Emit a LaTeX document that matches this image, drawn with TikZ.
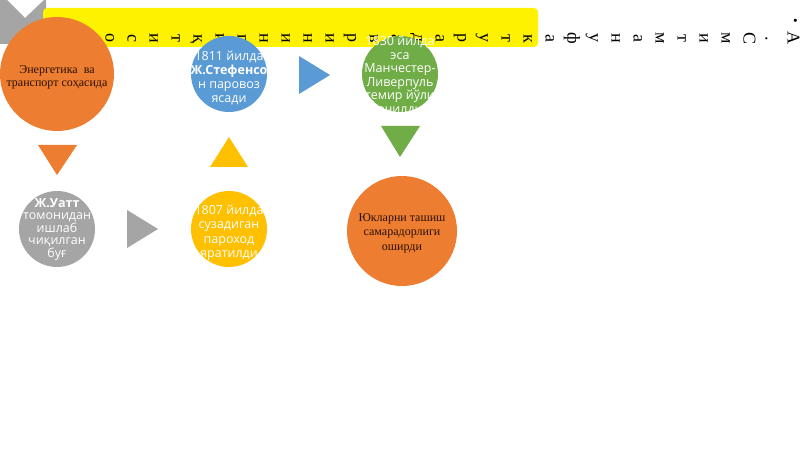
\documentclass[tikz,border=0pt]{standalone}
\usepackage{fontspec}
\setmainfont{Liberation Serif}
\newfontfamily\osans{Open Sans}
\definecolor{offorange}{HTML}{ED7D31}
\definecolor{offgray}{HTML}{A5A5A5}
\definecolor{offyellow}{HTML}{FFC000}
\definecolor{offblue}{HTML}{5B9BD5}
\definecolor{offgreen}{HTML}{70AD47}
\definecolor{darktxt}{HTML}{2B1000}
\begin{document}
\begin{tikzpicture}[x=1pt,y=-1pt,
  disc/.style={circle, inner sep=0pt, minimum size=#1},
  vchar/.style={rotate=-90, anchor=base, inner sep=0pt, font=\fontsize{18}{18}\selectfont},
  stxt/.style={align=center, inner sep=0pt, text=white, font=\osans\fontsize{12.5}{#1}\selectfont},
  rtxt/.style={align=center, inner sep=0pt, text=darktxt, font=\fontsize{12}{#1}\selectfont},
  marker/.style={fill=#1}]
\useasboundingbox (0,0) rectangle (800,449);
\fill[white] (0,0) rectangle (800,449);
% grey chevron in the corner
\fill[offgray] (0,0) -- (7,0) -- (25,18) -- (44,0) -- (46,0) -- (46,44) -- (0,44) -- cycle;
% yellow bar
\fill[yellow, rounded corners=4] (43,8) rectangle (538,47);
% vertical letters
\node[rotate=-90, inner sep=0pt, font=\fontsize{13}{13}\selectfont] (bul) at (794,21) {•};
\foreach \ch [count=\i from 0] in {А,.,С,м,и,т,м,а,н,у,ф,а,к,т,у,р,а,д,а,в,р,и,н,и,н,г,и,қ,т,и,с,о} {
  \node[vchar] (L\i) at ({792-22*\i-4.5},38.5) {\ch};
}
% circles
\node[disc=114, fill=offorange] (en) at (57,74) {};
\node[disc=76, fill=offgray] (gr) at (57,229) {};
\node[disc=76, fill=offyellow] (ye) at (229,229) {};
\node[disc=76, fill=offblue] (bl) at (229,74) {};
\node[disc=76, fill=offgreen] (gn) at (400,74) {};
\node[disc=110, fill=offorange] (ot) at (402,231) {};
% arrow markers
\fill[marker=offorange] (38,145) -- (77,145) -- (57,175) -- cycle;
\fill[marker=offgray] (127,210) -- (127,248) -- (158,229) -- cycle;
\fill[marker=offyellow] (210,167) -- (248,167) -- (229,137) -- cycle;
\fill[marker=offblue] (299,56) -- (299,94) -- (330,75) -- cycle;
\fill[marker=offgreen] (381,126) -- (420,126) -- (400,157) -- cycle;
% texts
\node[rtxt=13] (ent) at ([yshift=-3.5pt]en.center) {Энергетика\ \ ва\\транспорт соҳасида};
\node[stxt=12.5] (grt) at ([yshift=-0.5pt]gr.center) {\textbf{Ж.Уатт}\\томонидан\\ишлаб\\чиқилган\\буғ};
\node[stxt=14.5] (yet) at ([yshift=-4pt]ye.center) {1807 йилда\\сузадиган\\пароход\\яратилди};
\node[stxt=14] (blt) at ([yshift=-3.5pt]bl.center) {1811 йилда\\\textbf{Ж.Стефенсо}\\н паровоз\\ясади};
\node[stxt=13.5] (gnt) at ([yshift=-2pt]gn.center) {1830 йилда\\эса\\Манчестер-\\Ливерпуль\\темир йўли\\очилди};
\node[rtxt=14.5] (ott) at ([yshift=-2pt]ot.center) {Юкларни ташиш\\самарадорлиги\\оширди};
\end{tikzpicture}
\end{document}
